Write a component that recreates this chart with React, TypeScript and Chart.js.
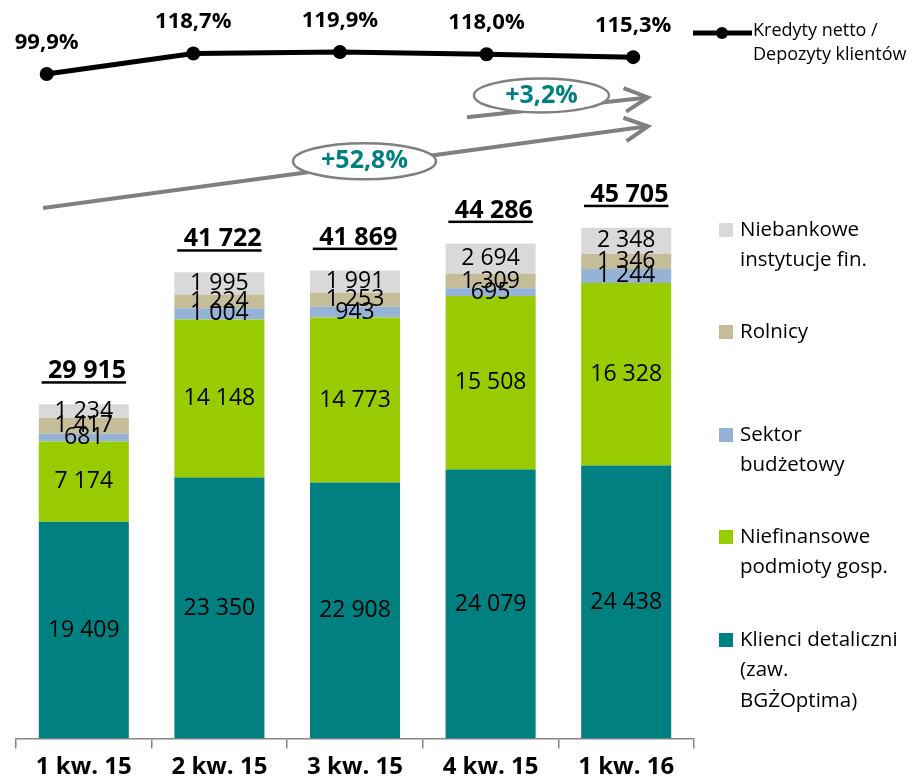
import React, { useEffect, useRef } from 'react';
import { Chart, registerables } from 'chart.js';

Chart.register(...registerables);

// ---- data ----
const categories = ['1 kw. 15', '2 kw. 15', '3 kw. 15', '4 kw. 15', '1 kw. 16'];
const retailClients = [19409, 23350, 22908, 24079, 24438];
const nonFinancialCompanies = [7174, 14148, 14773, 15508, 16328];
const publicSector = [681, 1004, 943, 695, 1244];
const farmers = [1417, 1224, 1253, 1309, 1346];
const nonBankFinancial = [1234, 1995, 1991, 2694, 2348];
const totals = [29915, 41722, 41869, 44286, 45705];
const loanToDeposit = [99.9, 118.7, 119.9, 118.0, 115.3];
const growthLabels = ['+52,8%', '+3,2%'];
const lineLegendLines = ['Kredyty netto /', 'Depozyty klientów'];

const barSeries = [
  { lines: ['Klienci detaliczni', '(zaw.', 'BGŻOptima)'], values: retailClients, color: '#008080' },
  { lines: ['Niefinansowe', 'podmioty gosp.'], values: nonFinancialCompanies, color: '#99CC00' },
  { lines: ['Sektor', 'budżetowy'], values: publicSector, color: '#95B3D7' },
  { lines: ['Rolnicy'], values: farmers, color: '#C4BD97' },
  { lines: ['Niebankowe', 'instytucje fin.'], values: nonBankFinancial, color: '#D9D9D9' },
];

const FONT = "'Open Sans', sans-serif";
const fmt = (n: number) => String(n).replace(/\B(?=(\d{3})+(?!\d))/g, ' ');
const pct = (v: number) => v.toFixed(1).replace('.', ',') + '%';

const overlay = {
  id: 'overlay',
  afterDatasetsDraw(chart: any) {
    const ctx = chart.ctx as CanvasRenderingContext2D;
    const xs = chart.scales.x;
    const ys = chart.scales.y;
    const area = chart.chartArea;
    ctx.save();

    // category labels
    ctx.fillStyle = '#000';
    ctx.textAlign = 'center';
    ctx.textBaseline = 'middle';
    ctx.font = `bold 24px ${FONT}`;
    categories.forEach((c, i) => ctx.fillText(c, xs.getPixelForTick(i), area.bottom + 29));

    // segment labels
    ctx.font = `23px ${FONT}`;
    barSeries.forEach((s, d) => {
      const meta = chart.getDatasetMeta(d);
      meta.data.forEach((el: any, i: number) => {
        const p = el.getProps(['x', 'y', 'base'], true);
        ctx.fillText(fmt(s.values[i]), p.x, (p.y + p.base) / 2);
      });
    });

    // totals (underlined)
    ctx.font = `bold 25px ${FONT}`;
    ctx.textBaseline = 'alphabetic';
    const topMeta = chart.getDatasetMeta(barSeries.length - 1);
    topMeta.data.forEach((el: any, i: number) => {
      const p = el.getProps(['x', 'y'], true);
      const txt = ' ' + fmt(totals[i]);
      const w = ctx.measureText(txt).width;
      const by = p.y - 26;
      ctx.fillText(txt, p.x, by);
      ctx.fillRect(p.x - w / 2, by + 3, w, 2.5);
    });

    // line labels
    ctx.font = `bold 22px ${FONT}`;
    const lineMeta = chart.getDatasetMeta(barSeries.length);
    lineMeta.data.forEach((el: any, i: number) => {
      const p = el.getProps(['x', 'y'], true);
      ctx.fillText(pct(loanToDeposit[i]), p.x, p.y - 25);
    });

    // growth arrows (anchored to the bar scales)
    const P = (idx: number, val: number) => [xs.getPixelForValue(idx), ys.getPixelForValue(val)];
    const arrow = (a: number[], b: number[]) => {
      ctx.strokeStyle = '#808080';
      ctx.lineWidth = 4;
      ctx.lineCap = 'butt';
      ctx.lineJoin = 'miter';
      ctx.beginPath();
      ctx.moveTo(a[0], a[1]);
      ctx.lineTo(b[0], b[1]);
      ctx.stroke();
      const ang = Math.atan2(b[1] - a[1], b[0] - a[0]);
      const L = 26, th = (27 * Math.PI) / 180;
      ctx.beginPath();
      ctx.moveTo(b[0] - L * Math.cos(ang - th), b[1] - L * Math.sin(ang - th));
      ctx.lineTo(b[0], b[1]);
      ctx.lineTo(b[0] - L * Math.cos(ang + th), b[1] - L * Math.sin(ang + th));
      ctx.stroke();
    };
    const bubble = (c: number[], rx: number, ry: number, label: string) => {
      ctx.beginPath();
      ctx.ellipse(c[0], c[1], rx, ry, 0, 0, Math.PI * 2);
      ctx.fillStyle = '#fff';
      ctx.fill();
      ctx.strokeStyle = '#808080';
      ctx.lineWidth = 2.5;
      ctx.stroke();
      ctx.fillStyle = '#008080';
      ctx.font = `bold 25px ${FONT}`;
      ctx.textAlign = 'center';
      ctx.textBaseline = 'middle';
      ctx.fillText(label, c[0], c[1]);
    };
    arrow(P(-0.3, 47460), P(4.16, 54770));
    bubble(P(2.07, 51650), 71.5, 18, growthLabels[0]);
    arrow(P(2.826, 55575), P(4.16, 57360));
    bubble(P(3.375, 57540), 67.5, 17, growthLabels[1]);

    // bar legend
    ctx.textAlign = 'left';
    ctx.textBaseline = 'middle';
    ctx.font = `20.5px ${FONT}`;
    const legendTops = [640, 537, 435, 332, 230];
    barSeries.forEach((s, d) => {
      const y0 = legendTops[d];
      ctx.fillStyle = s.color;
      ctx.fillRect(719, y0 - 7, 14, 14);
      ctx.fillStyle = '#000';
      s.lines.forEach((ln, k) => ctx.fillText(ln, 740, y0 + k * 30.5));
    });

    // line legend
    ctx.strokeStyle = '#000';
    ctx.lineWidth = 5;
    ctx.beginPath();
    ctx.moveTo(693, 33);
    ctx.lineTo(752, 33);
    ctx.stroke();
    ctx.fillStyle = '#000';
    ctx.beginPath();
    ctx.arc(722, 33, 6, 0, Math.PI * 2);
    ctx.fill();
    ctx.font = `18px ${FONT}`;
    lineLegendLines.forEach((ln, k) => ctx.fillText(ln, 753, 31 + k * 24));

    ctx.restore();
  },
};

export default function App() {
  const ref = useRef<HTMLCanvasElement>(null);
  useEffect(() => {
    if (!ref.current) return;
    const datasets: any[] = barSeries.map((s) => ({
      type: 'bar',
      label: s.lines.join(' '),
      data: s.values,
      backgroundColor: s.color,
      stack: 's',
      grouped: false,
      xAxisID: 'x',
      yAxisID: 'y',
      barPercentage: 0.664,
      categoryPercentage: 1,
      order: 1,
    }));
    datasets.push({
      type: 'line',
      label: lineLegendLines.join(' '),
      data: loanToDeposit.map((v, i) => ({ x: i, y: v })),
      xAxisID: 'x2',
      yAxisID: 'y2',
      borderColor: '#000',
      borderWidth: 5,
      pointRadius: 7,
      pointBackgroundColor: '#000',
      pointBorderWidth: 0,
      tension: 0,
      order: 0,
    });
    const chart = new Chart(ref.current, {
      type: 'bar',
      data: { labels: categories, datasets },
      options: {
        animation: false,
        responsive: false,
        layout: { padding: { left: 16, right: 220, top: 12, bottom: 0 } },
        plugins: { legend: { display: false }, tooltip: { enabled: false } },
        scales: {
          x: {
            type: 'category',
            stacked: true,
            offset: true,
            grid: { display: true, drawOnChartArea: false, offset: true, tickLength: 10, color: '#868686', lineWidth: 1.5 },
            border: { display: true, color: '#868686', width: 1.5 },
            ticks: { color: 'rgba(0,0,0,0)', font: { family: FONT, size: 24, weight: 'bold', lineHeight: 1.1 }, padding: 3, maxRotation: 0, autoSkip: false },
          },
          y: { stacked: true, display: false, min: 0, max: 65000 },
          x2: { type: 'linear', display: false, offset: false, min: -0.2094, max: 4.415, grid: { offset: false } },
          y2: { type: 'linear', display: false, min: -506.5, max: 156.5 },
        },
      } as any,
      plugins: [overlay],
    });
    return () => chart.destroy();
  }, []);
  return (
    <div style={{ position: 'absolute', left: 0, top: 0, width: 914, height: 781 }}>
      <canvas ref={ref} width={914} height={781} style={{ display: 'block' }} />
    </div>
  );
}
